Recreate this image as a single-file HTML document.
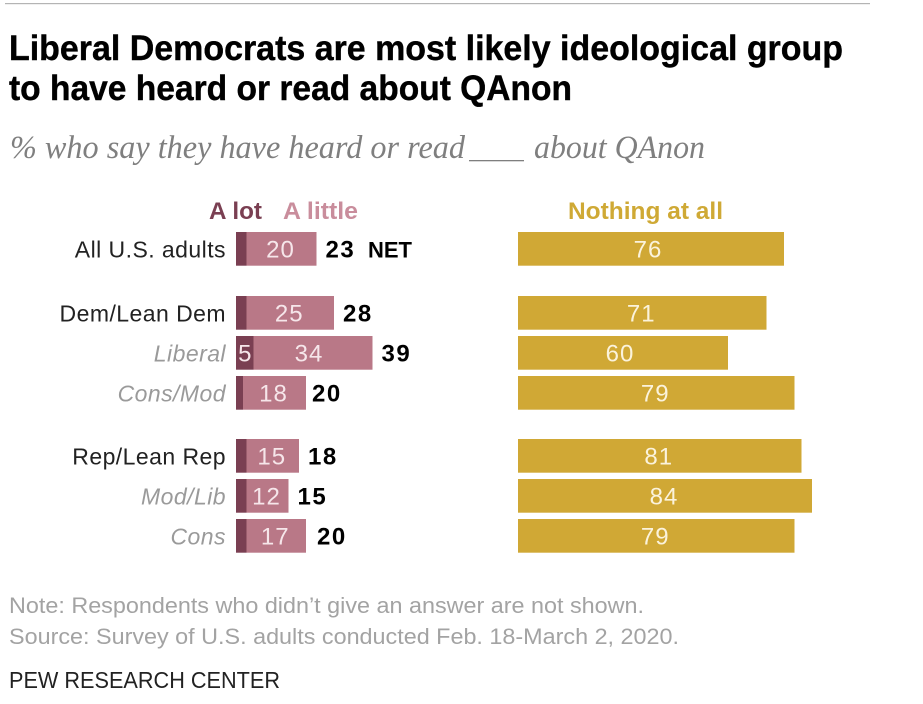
<!DOCTYPE html>
<html lang="en">
<head>
<meta charset="utf-8">
<title>Liberal Democrats are most likely ideological group to have heard or read about QAnon</title>
<style>
html,body{margin:0;padding:0;background:#fff;width:923px;height:704px;overflow:hidden}
svg{display:block}
text{font-family:"Liberation Sans",sans-serif}
</style>
</head>
<body>
<svg id="chart" xmlns="http://www.w3.org/2000/svg" width="923" height="704" viewBox="0 0 923 704">
<rect x="5" y="3" width="865" height="1.2" fill="#b4b4b4"/>
<text x="9" y="60" font-size="35" font-weight="700" fill="#000" stroke="#000" stroke-width="0.4" textLength="834" lengthAdjust="spacingAndGlyphs">Liberal Democrats are most likely ideological group</text>
<text x="9" y="100" font-size="35" font-weight="700" fill="#000" stroke="#000" stroke-width="0.4" textLength="563" lengthAdjust="spacingAndGlyphs">to have heard or read about QAnon</text>
<text x="10" y="158" font-size="33" font-style="italic" fill="#7f7f7f" style="font-family:'Liberation Serif',serif" textLength="455" lengthAdjust="spacingAndGlyphs">% who say they have heard or read</text>
<rect x="469" y="160" width="55" height="1.3" fill="#7f7f7f"/>
<text x="534" y="158" font-size="33" font-style="italic" fill="#7f7f7f" style="font-family:'Liberation Serif',serif" textLength="171" lengthAdjust="spacingAndGlyphs">about QAnon</text>
<text x="209" y="219" font-size="24" font-weight="700" fill="#7a3f52" textLength="53" lengthAdjust="spacingAndGlyphs">A lot</text>
<text x="283" y="219" font-size="24" font-weight="700" fill="#c98d9c" textLength="75" lengthAdjust="spacingAndGlyphs">A little</text>
<text x="568" y="219" font-size="24" font-weight="700" fill="#cfa935" textLength="155" lengthAdjust="spacingAndGlyphs">Nothing at all</text>
<g id="rows"></g>
<text x="9" y="613" font-size="22" fill="#a3a3a3" textLength="635" lengthAdjust="spacingAndGlyphs">Note: Respondents who didn’t give an answer are not shown.</text>
<text x="9" y="644" font-size="22" fill="#a3a3a3" textLength="670" lengthAdjust="spacingAndGlyphs">Source: Survey of U.S. adults conducted Feb. 18-March 2, 2020.</text>
<text x="9" y="688" font-size="23" fill="#222" textLength="271" lengthAdjust="spacingAndGlyphs">PEW RESEARCH CENTER</text>
</svg>
<script>
var categories = ["All U.S. adults", "Dem/Lean Dem", "Liberal", "Cons/Mod", "Rep/Lean Rep", "Mod/Lib", "Cons"];
var aLot = [3, 3, 5, 2, 3, 3, 3];
var aLittle = [20, 25, 34, 18, 15, 12, 17];
var netHeard = [23, 28, 39, 20, 18, 15, 20];
var nothingAtAll = [76, 71, 60, 79, 81, 84, 79];
var rowGroups = [0, 1, 1, 1, 2, 2, 2];
var subgroupRows = [false, false, true, true, false, true, true];

var SVGNS = "http://www.w3.org/2000/svg";
var layer = document.getElementById("rows");
var barHeight = 33.7;
var unit = 3.5;
function xLeft(v) { return 236 + v * unit; }
function xRight(v) { return 518 + v * unit; }
function yRow(i) { return 232 + i * 40 + rowGroups[i] * 24 - (rowGroups[i] === 2 ? 1 : 0); }
function netNudge(i) { return i === 3 ? -3 : (i === 6 ? 2 : 0); }
function littleNudge(i) { return i === 2 ? -3 : 0; }
function nothingNudge(i) { return (i === 0 || i === 2) ? -2 : 0; }
function drawRect(x, y, w, h, fill) {
  var r = document.createElementNS(SVGNS, "rect");
  r.setAttribute("x", x);
  r.setAttribute("y", y);
  r.setAttribute("width", w);
  r.setAttribute("height", h);
  r.setAttribute("fill", fill);
  layer.appendChild(r);
  return r;
}
function drawText(x, y, str, size, fill, anchor, weight, italic, spacing) {
  var t = document.createElementNS(SVGNS, "text");
  t.setAttribute("x", x);
  t.setAttribute("y", y);
  t.setAttribute("font-size", size);
  t.setAttribute("fill", fill);
  t.setAttribute("text-anchor", anchor);
  if (weight) t.setAttribute("font-weight", weight);
  if (italic) t.setAttribute("font-style", "italic");
  if (spacing) t.setAttribute("letter-spacing", spacing);
  t.textContent = str;
  layer.appendChild(t);
  return t;
}
categories.forEach(function (name, i) {
  var y = yRow(i);
  var mid = y + barHeight / 2 + 8.5;
  var sub = subgroupRows[i];

  var label = drawText(226, mid, name, 23, sub ? "#9a9a9a" : "#222", "end", null, sub, 0.45);
  
  

  var lot = drawRect(xLeft(0), y, aLot[i] * unit, barHeight, "#7a3f52");
  
  

  var little = drawRect(xLeft(aLot[i]), y, aLittle[i] * unit, barHeight, "#b97887");
  
  

  if (aLot[i] >= 5) {
    var lotValue = drawText(xLeft(aLot[i] / 2), mid, String(aLot[i]), 24, "#f6e6ea", "middle");
    
    
  }

  var littleValue = drawText(xLeft(aLot[i] + aLittle[i] / 2) - 1 + littleNudge(i), mid, String(aLittle[i]), 24, "#f6e6ea", "middle", null, false, 1);
  
  

  var netValue = drawText(xLeft(netHeard[i]) + 9 + netNudge(i), mid, String(netHeard[i]), 24, "#000", "start", "700", false, 1.5);
  
  

  if (i === 0) {
    var netLabel = drawText(368, mid, "NET", 22, "#000", "start", "700");
    
    
  }

  var nothing = drawRect(xRight(0), y, nothingAtAll[i] * unit, barHeight, "#d0a835");
  
  

  var nothingValue = drawText(xRight(nothingAtAll[i] / 2) - 1 + nothingNudge(i), mid, String(nothingAtAll[i]), 24, "#fbf3dc", "middle", null, false, 1);
  
  
});
</script>
</body>
</html>
